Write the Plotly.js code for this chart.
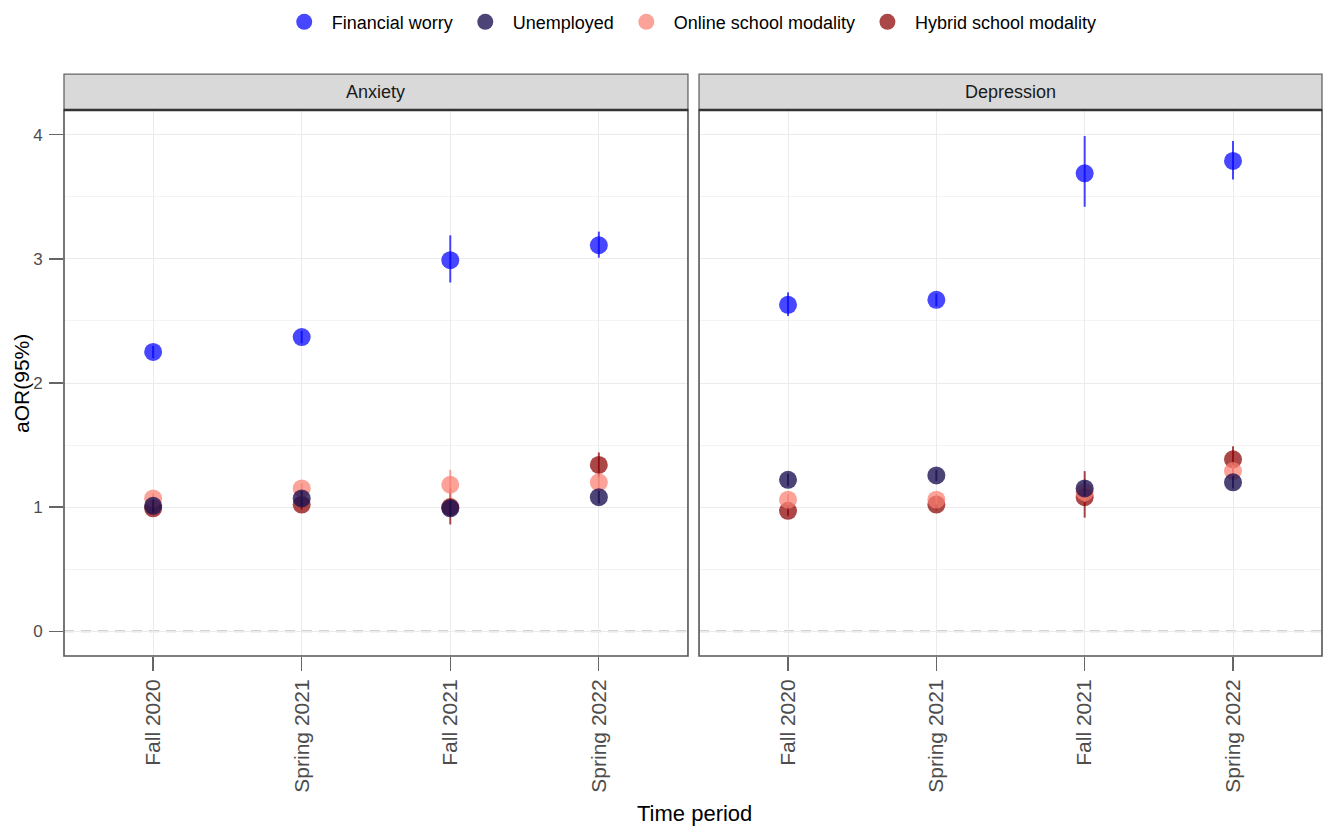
<!DOCTYPE html>
<html>
<head>
<meta charset="utf-8">
<script src="https://cdn.plot.ly/plotly-3.0.1.min.js"></script>
<style>html,body{margin:0;padding:0;background:#fff;}#chart{width:1325px;height:829px;}</style>
</head>
<body>
<div id="chart"></div>
<script>
const periods = ["Fall 2020", "Spring 2021", "Fall 2021", "Spring 2022"];
const facets = ["Anxiety", "Depression"];
const seriesNames = ["Financial worry", "Unemployed", "Online school modality", "Hybrid school modality"];

// Anxiety: estimates, lower and upper CI
const anxFinancial = [2.25, 2.37, 2.99, 3.11];
const anxFinancialLo = [2.20, 2.32, 2.81, 3.01];
const anxFinancialHi = [2.30, 2.42, 3.19, 3.22];
const anxUnemployed = [1.01, 1.07, 0.99, 1.08];
const anxUnemployedLo = [0.96, 1.01, 0.93, 1.03];
const anxUnemployedHi = [1.06, 1.13, 1.05, 1.13];
const anxOnline = [1.07, 1.15, 1.18, 1.20];
const anxOnlineLo = [1.03, 1.11, 1.07, 1.15];
const anxOnlineHi = [1.11, 1.19, 1.30, 1.25];
const anxHybrid = [0.99, 1.02, 1.00, 1.34];
const anxHybridLo = [0.95, 0.98, 0.86, 1.24];
const anxHybridHi = [1.03, 1.06, 1.15, 1.44];

// Depression
const depFinancial = [2.63, 2.67, 3.69, 3.79];
const depFinancialLo = [2.54, 2.62, 3.42, 3.64];
const depFinancialHi = [2.73, 2.72, 3.99, 3.95];
const depUnemployed = [1.22, 1.255, 1.15, 1.20];
const depUnemployedLo = [1.17, 1.21, 1.09, 1.15];
const depUnemployedHi = [1.27, 1.30, 1.21, 1.25];
const depOnline = [1.06, 1.06, 1.12, 1.29];
const depOnlineLo = [1.02, 1.02, 1.04, 1.24];
const depOnlineHi = [1.10, 1.10, 1.20, 1.34];
const depHybrid = [0.97, 1.02, 1.08, 1.385];
const depHybridLo = [0.93, 0.98, 0.915, 1.28];
const depHybridHi = [1.01, 1.06, 1.29, 1.49];

const colors = {
  "Financial worry": "rgba(0,0,255,0.72)",
  "Unemployed": "rgba(25,16,80,0.78)",
  "Online school modality": "rgba(250,128,114,0.72)",
  "Hybrid school modality": "rgba(139,0,0,0.72)"
};

const data = {
  Anxiety: {
    "Financial worry": [anxFinancial, anxFinancialLo, anxFinancialHi],
    "Unemployed": [anxUnemployed, anxUnemployedLo, anxUnemployedHi],
    "Online school modality": [anxOnline, anxOnlineLo, anxOnlineHi],
    "Hybrid school modality": [anxHybrid, anxHybridLo, anxHybridHi]
  },
  Depression: {
    "Financial worry": [depFinancial, depFinancialLo, depFinancialHi],
    "Unemployed": [depUnemployed, depUnemployedLo, depUnemployedHi],
    "Online school modality": [depOnline, depOnlineLo, depOnlineHi],
    "Hybrid school modality": [depHybrid, depHybridLo, depHybridHi]
  }
};

const FONT = "Liberation Sans, Arial, Helvetica, sans-serif";
const drawOrder = ["Hybrid school modality", "Online school modality", "Unemployed", "Financial worry"];
const traces = [];
facets.forEach((f, fi) => {
  drawOrder.forEach(name => {
    const [est, lo, hi] = data[f][name];
    traces.push({
      type: "scatter",
      mode: "markers",
      name: name,
      legendgroup: name,
      showlegend: fi === 0,
      legendrank: seriesNames.indexOf(name) + 1,
      x: periods,
      y: est,
      xaxis: fi === 0 ? "x" : "x2",
      yaxis: fi === 0 ? "y" : "y2",
      marker: {size: 18, color: colors[name], line: {width: 0}},
      error_y: {
        type: "data", symmetric: false,
        array: est.map((v, i) => hi[i] - v),
        arrayminus: est.map((v, i) => v - lo[i]),
        color: colors[name], thickness: 2, width: 0
      }
    });
  });
});

const gridColor = "#ebebeb";
const xBase = {
  type: "category", categoryorder: "array", categoryarray: periods,
  range: [-0.6, 3.6], tickangle: -90,
  showgrid: true, gridcolor: gridColor, gridwidth: 1,
  ticks: "outside", ticklen: 14, tickcolor: "#666", tickwidth: 1.3,
  tickfont: {family: FONT, size: 21, color: "#4d4d4d"},
  showline: false, zeroline: false, fixedrange: true
};
const yBase = {
  range: [-0.2, 4.2], tickvals: [0, 1, 2, 3, 4],
  showgrid: true, gridcolor: gridColor, gridwidth: 1,
  minor: {tickvals: [0.5, 1.5, 2.5, 3.5], showgrid: true, gridcolor: "#f3f3f3", gridwidth: 1},
  ticks: "outside", ticklen: 14, tickcolor: "#666", tickwidth: 1.3,
  ticklabelstandoff: 3,
  tickfont: {family: FONT, size: 17, color: "#4d4d4d"},
  zeroline: false, showline: false, fixedrange: true
};

const d1 = [0, 0.496];
const d2 = [0.5048, 1];
const stripTop = 1.0658;

const shapes = [];
[d1, d2].forEach((d, i) => {
  shapes.push({type: "rect", xref: "paper", yref: "paper", x0: d[0], x1: d[1], y0: 1, y1: stripTop,
    fillcolor: "#d9d9d9", line: {color: "#666", width: 1.3}, layer: "below"});
  shapes.push({type: "rect", xref: "paper", yref: "paper", x0: d[0], x1: d[1], y0: 0, y1: 1,
    fillcolor: "rgba(0,0,0,0)", line: {color: "#555", width: 1.6}, layer: "above"});
  shapes.push({type: "line", xref: (i === 0 ? "x" : "x2") + " domain", yref: i === 0 ? "y" : "y2",
    x0: 0, x1: 1, y0: 0, y1: 0, line: {color: "#c4c4c4", width: 2, dash: "10px,7px"}, layer: "below"});
});
[d1, d2].forEach(d => {
  shapes.push({type: "line", xref: "paper", yref: "paper", x0: d[0], x1: d[1], y0: 1, y1: 1,
    line: {color: "#333", width: 2.5}});
});

const annotations = facets.map((f, i) => ({
  text: f, xref: "paper", yref: "paper",
  x: ([d1, d2][i][0] + [d1, d2][i][1]) / 2, y: (1 + stripTop) / 2,
  xanchor: "center", yanchor: "middle", showarrow: false,
  font: {family: FONT, size: 18, color: "#1a1a1a"}
}));

const layout = {
  width: 1325, height: 829,
  margin: {l: 64, r: 3, t: 110, b: 173},
  paper_bgcolor: "#fff", plot_bgcolor: "#fff",
  font: {family: FONT, color: "#000"},
  showlegend: true,
  legend: {orientation: "h", x: 0.497, xanchor: "center", y: 1.161, yanchor: "middle",
    font: {family: FONT, size: 18, color: "#000"}, itemwidth: 45, traceorder: "normal", tracegroupgap: 0},
  xaxis: Object.assign({}, xBase, {domain: d1, anchor: "y"}),
  xaxis2: Object.assign({}, xBase, {domain: d2, anchor: "y2"}),
  yaxis: Object.assign({}, yBase, {domain: [0, 1], anchor: "x"}),
  yaxis2: Object.assign({}, yBase, {domain: [0, 1], anchor: "x2", matches: "y", showticklabels: false, ticks: ""}),
  shapes: shapes,
  annotations: annotations.concat([
    {
      text: "Time period", xref: "paper", yref: "paper", x: 0.5008, y: -0.289,
      xanchor: "center", yanchor: "middle", showarrow: false,
      font: {family: FONT, size: 22, color: "#000"}
    },
    {
      text: "aOR(95%)", xref: "paper", yref: "paper", x: -0.0342, y: 0.5, textangle: -90,
      xanchor: "center", yanchor: "middle", showarrow: false,
      font: {family: FONT, size: 21, color: "#000"}
    }
  ])
};

Plotly.newPlot("chart", traces, layout, {displayModeBar: false, staticPlot: true});
</script>
</body>
</html>
